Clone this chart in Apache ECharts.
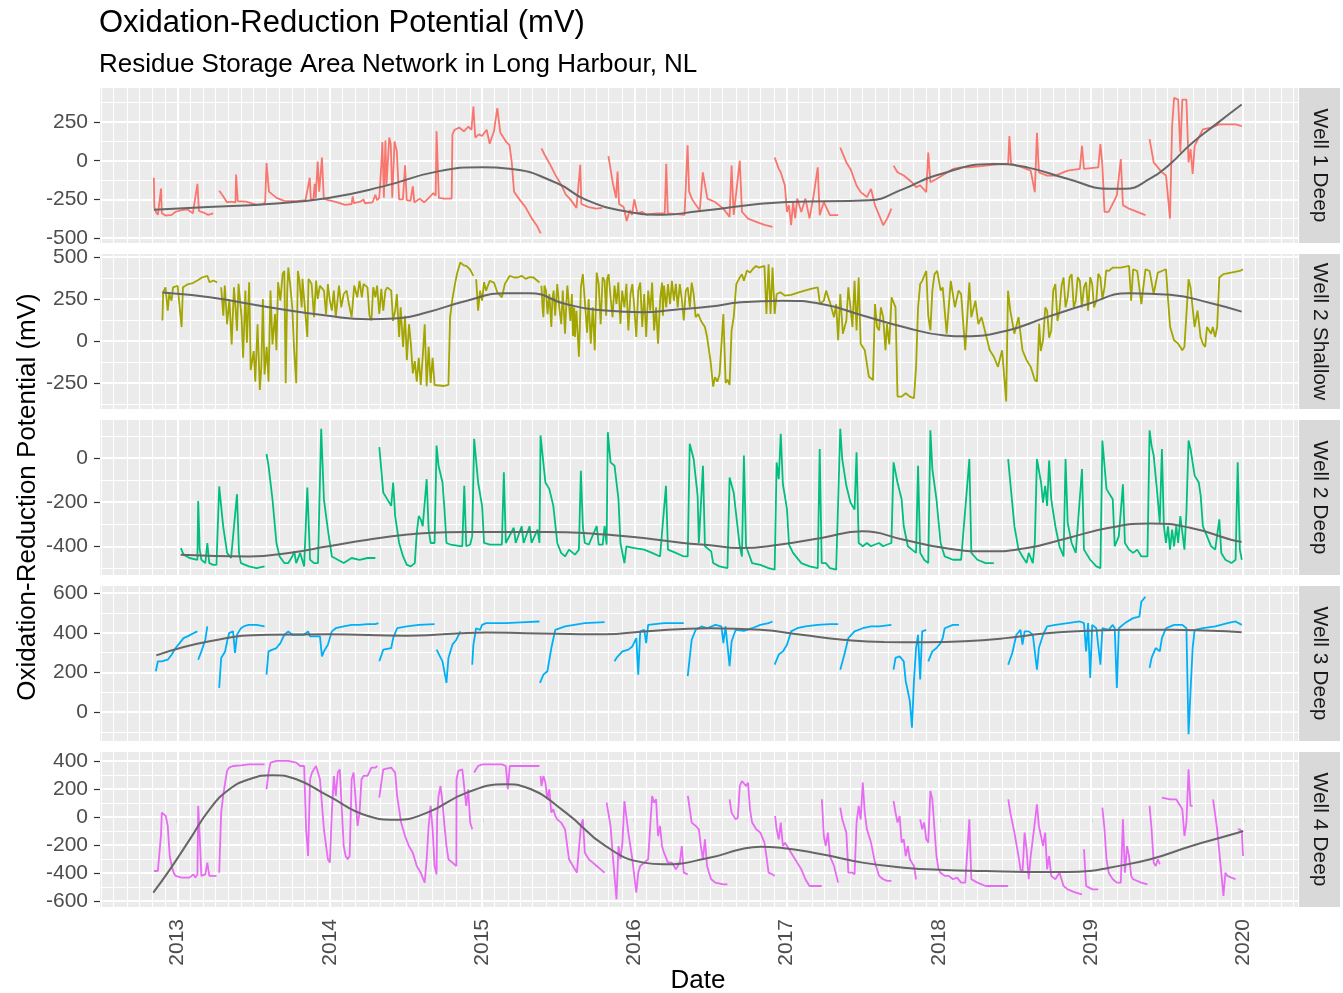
<!DOCTYPE html>
<html><head><meta charset="utf-8">
<script src="https://cdn.jsdelivr.net/npm/echarts@6/dist/echarts.min.js"></script>
<style>html,body{margin:0;padding:0;background:#fff}#c{width:1343px;height:993px}</style>
</head><body><div id="c"></div>
<script>
// ---------------- DATA ----------------
const wellNames = ['Well 1 Deep', 'Well 2 Shallow', 'Well 2 Deep', 'Well 3 Deep', 'Well 4 Deep'];
const xTicks = [2013, 2014, 2015, 2016, 2017, 2018, 2019, 2020];
const yTicks1 = [-500, -250, 0, 250];
const yTicks2 = [-250, 0, 250, 500];
const yTicks3 = [-400, -200, 0];
const yTicks4 = [0, 200, 400, 600];
const yTicks5 = [-600, -400, -200, 0, 200, 400];

// [decimal year, mV]; null = gap in record
const well1 = [[2012.844,-110],[2012.847,-300],[2012.857,-330],[2012.870,-350],[2012.880,-345],[2012.891,-180],[2012.896,-340],[2012.922,-355],[2012.961,-350],[2012.987,-330],[2013.026,-320],[2013.065,-315],[2013.100,-340],[2013.130,-150],[2013.140,-325],[2013.170,-335],[2013.200,-350],[2013.234,-340],
null,
[2013.273,-194],[2013.299,-230],[2013.325,-270],[2013.351,-265],[2013.380,-270],[2013.384,-90],[2013.395,-262],[2013.45,-265],[2013.52,-285],[2013.56,-280],[2013.575,-270],[2013.584,-15],[2013.60,-200],[2013.65,-240],[2013.70,-260],[2013.78,-262],[2013.84,-255],[2013.868,-110],[2013.875,-250],[2013.892,-250],[2013.900,-150],[2013.907,-240],[2013.920,-5],[2013.930,-200],[2013.948,20],[2013.960,-245],[2013.99,-255],[2014.05,-270],[2014.10,-285],[2014.143,-280],[2014.150,-230],[2014.158,-275],[2014.20,-265],[2014.221,-250],[2014.230,-275],[2014.28,-270],[2014.299,-220],[2014.31,-255],
[2014.325,-240],[2014.338,-30],[2014.345,120],[2014.355,-240],[2014.365,130],[2014.372,-160],[2014.390,150],[2014.400,110],[2014.410,-240],[2014.425,125],[2014.440,60],[2014.455,-250],[2014.480,-250],[2014.494,-30],[2014.505,-255],[2014.53,-260],[2014.545,-165],[2014.555,-270],[2014.59,-245],[2014.62,-270],[2014.65,-240],[2014.68,-210],
[2014.695,-225],[2014.701,190],[2014.708,-10],[2014.716,-240],[2014.75,-245],[2014.80,-245],[2014.805,170],[2014.82,200],[2014.85,215],[2014.88,190],[2014.91,220],[2014.93,200],[2014.943,350],[2014.955,150],[2014.98,170],[2015.0,160],[2015.03,200],[2015.05,110],[2015.078,190],[2015.10,340],[2015.12,180],[2015.16,120],[2015.18,100],[2015.195,-10],[2015.21,-200],[2015.245,-250],[2015.285,-300],[2015.325,-370],[2015.36,-420],[2015.385,-470],
null,
[2015.39,80],[2015.41,40],[2015.45,-30],[2015.48,-90],[2015.52,-155],[2015.55,-220],[2015.58,-250],[2015.62,-305],[2015.645,-26],[2015.652,-280],[2015.70,-300],[2015.75,-310],[2015.79,-305],
null,
[2015.83,30],[2015.86,-150],[2015.88,-240],[2015.89,-70],[2015.90,-280],[2015.93,-300],[2015.95,-390],[2015.97,-320],[2015.985,-350],[2016.0,-250],[2016.02,-340],[2016.05,-330],[2016.08,-350],[2016.10,-345],[2016.15,-340],[2016.20,-340],[2016.21,-20],[2016.22,-340],[2016.28,-345],[2016.33,-350],[2016.35,100],[2016.36,-200],[2016.38,-250],[2016.40,-280],[2016.43,-320],[2016.45,-75],[2016.48,-245],[2016.53,-267],[2016.585,-310],[2016.626,-363],[2016.639,-32],[2016.653,-350],[2016.693,0],[2016.707,-330],[2016.747,-375],[2016.801,-395],[2016.855,-415],[2016.908,-427],
null,
[2016.922,21],[2016.949,-53],[2016.962,-75],[2016.989,-160],[2017.003,-331],[2017.016,-288],[2017.030,-416],[2017.043,-267],[2017.057,-373],[2017.070,-245],[2017.097,-331],[2017.124,-245],[2017.151,-373],[2017.178,-224],[2017.205,-43],[2017.218,-352],[2017.245,-267],[2017.285,-352],[2017.339,-352],
null,
[2017.353,85],[2017.393,-11],[2017.420,-53],[2017.460,-160],[2017.487,-203],[2017.528,-235],[2017.555,-182],[2017.581,-288],[2017.608,-352],[2017.635,-417],[2017.662,-373],[2017.689,-310],
null,
[2017.703,-32],[2017.729,-75],[2017.770,-96],[2017.824,-139],[2017.851,-171],[2017.878,-160],[2017.918,-203],[2017.931,53],[2017.945,-139],[2017.985,-118],[2018.039,-86],[2018.093,-53],[2018.147,-43],[2018.201,-43],[2018.308,-32],[2018.416,-21],[2018.456,-21],[2018.464,160],[2018.475,-21],[2018.550,-43],[2018.604,-64],[2018.631,-203],[2018.645,180],[2018.658,-75],[2018.712,-96],[2018.766,-96],[2018.847,-64],[2018.927,-53],[2018.941,96],[2018.954,-53],[2019.048,-43],[2019.062,107],[2019.075,-32],[2019.089,-331],[2019.116,-331],[2019.170,-224],[2019.196,11],[2019.210,-288],[2019.250,-310],[2019.304,-331],[2019.358,-352],
null,
[2019.385,139],[2019.412,-11],[2019.466,-75],[2019.493,-96],[2019.519,-374],[2019.533,224],[2019.546,406],[2019.573,395],[2019.587,53],[2019.600,395],[2019.627,395],[2019.641,-11],[2019.654,75],[2019.668,-86],[2019.681,96],[2019.708,150],[2019.735,203],[2019.789,214],[2019.843,235],[2019.897,235],[2019.950,235],[2019.991,224]];

const well2s = [[2012.90,122],[2012.905,289],[2012.92,319],[2012.935,181],[2012.945,280],[2012.96,240],[2012.97,319],[2013.0,329],[2013.026,83],[2013.035,320],[2013.07,339],[2013.10,345],[2013.13,360],[2013.16,378],[2013.195,388],[2013.21,350],[2013.235,360],[2013.26,348],
null,
[2013.286,320],[2013.30,150],[2013.31,330],[2013.325,100],[2013.34,250],[2013.355,-20],[2013.37,320],[2013.38,200],[2013.39,60],[2013.40,340],[2013.42,142],[2013.43,-100],[2013.445,300],[2013.455,-10],[2013.47,350],[2013.48,-173],[2013.50,-60],[2013.51,-242],[2013.525,100],[2013.54,-291],[2013.55,-150],[2013.56,250],[2013.571,-200],[2013.585,-35],[2013.597,-242],[2013.61,300],[2013.623,-20],[2013.64,160],[2013.649,-55],[2013.66,350],[2013.675,240],[2013.69,400],[2013.701,417],[2013.71,-252],[2013.72,300],[2013.727,437],[2013.74,330],[2013.753,200],[2013.765,-50],[2013.779,-252],[2013.79,417],[2013.80,360],[2013.815,200],[2013.82,370],[2013.83,380],[2013.852,24],[2013.86,370],[2013.88,340],[2013.896,142],[2013.91,360],[2013.92,250],[2013.935,329],[2013.961,300],[2013.975,160],[2013.987,339],[2014.0,240],[2014.013,181],[2014.026,300],[2014.039,142],[2014.06,330],[2014.075,200],[2014.091,280],[2014.11,300],[2014.125,220],[2014.143,142],[2014.16,330],[2014.18,260],[2014.195,358],[2014.21,260],[2014.221,339],[2014.247,319],[2014.26,150],[2014.273,122],[2014.285,320],[2014.299,260],[2014.31,330],[2014.325,161],[2014.338,310],[2014.351,181],[2014.365,300],[2014.377,319],
[2014.403,300],[2014.415,120],[2014.429,181],[2014.44,280],[2014.455,24],[2014.465,200],[2014.481,-35],[2014.494,150],[2014.506,-114],[2014.52,100],[2014.532,-16],[2014.545,-193],[2014.558,-120],[2014.571,-242],[2014.584,-100],[2014.597,-262],[2014.61,-94],[2014.623,100],[2014.636,-270],[2014.649,-35],[2014.662,-250],[2014.675,-100],[2014.688,-262],[2014.70,-272],[2014.72,-265],[2014.75,-268],[2014.779,-262],[2014.79,142],[2014.805,250],[2014.82,330],[2014.835,400],[2014.857,467],[2014.88,450],[2014.896,447],[2014.92,427],[2014.943,388],
null,
[2014.961,368],[2014.974,181],[2014.987,300],[2015.0,240],[2015.013,350],[2015.026,299],[2015.05,358],[2015.078,348],[2015.10,290],[2015.13,260],[2015.15,340],[2015.182,388],[2015.21,378],[2015.234,378],[2015.26,388],[2015.286,370],[2015.312,380],[2015.338,378],[2015.377,348],
null,
[2015.390,329],[2015.397,200],[2015.403,142],[2015.41,330],[2015.42,300],[2015.43,160],[2015.442,280],[2015.455,83],[2015.462,250],[2015.47,300],[2015.48,150],[2015.494,339],[2015.507,200],[2015.52,100],[2015.53,300],[2015.545,43],[2015.555,250],[2015.56,330],[2015.571,319],[2015.58,120],[2015.59,280],[2015.597,30],[2015.605,200],[2015.61,24],[2015.62,180],[2015.636,-94],[2015.643,100],[2015.649,320],[2015.662,398],[2015.675,407],[2015.69,50],[2015.70,250],[2015.714,-16],[2015.727,200],[2015.74,-55],[2015.753,407],[2015.766,340],[2015.779,100],[2015.792,380],[2015.805,358],[2015.815,150],[2015.822,370],[2015.831,398],[2015.845,250],[2015.857,142],[2015.87,330],[2015.883,220],[2015.895,350],[2015.909,102],[2015.92,300],[2015.935,200],[2015.948,340],[2015.961,63],[2015.975,280],[2015.987,339],[2016.0,200],[2016.013,24],[2016.026,300],[2016.039,348],[2016.052,83],[2016.065,280],[2016.078,24],[2016.091,300],[2016.105,180],[2016.117,348],[2016.13,63],[2016.143,200],[2016.156,-16],[2016.17,250],[2016.182,348],[2016.188,150],[2016.195,330],[2016.21,200],[2016.221,339],[2016.235,220],[2016.247,358],[2016.26,240],[2016.273,340],[2016.285,200],[2016.299,339],[2016.312,250],[2016.325,122],[2016.338,300],[2016.351,319],[2016.365,200],[2016.377,348],[2016.39,280],[2016.403,142],[2016.42,160],[2016.437,122],[2016.45,102],[2016.464,83],[2016.478,24],[2016.50,-114],[2016.518,-272],[2016.53,-215],[2016.545,-242],[2016.56,-200],[2016.585,161],[2016.60,-250],[2016.612,-230],[2016.626,-262],[2016.639,63],[2016.653,142],[2016.67,339],[2016.693,378],[2016.707,398],[2016.72,358],[2016.74,420],[2016.76,407],[2016.78,430],[2016.80,447],[2016.82,437],[2016.855,447],[2016.868,161],[2016.882,457],[2016.895,161],[2016.908,437],[2016.922,161],[2016.935,280],[2016.96,290],[2016.989,270],[2017.03,275],[2017.08,290],[2017.12,300],[2017.16,310],[2017.205,319],[2017.22,220],[2017.245,240],[2017.26,300],[2017.285,230],[2017.312,142],[2017.326,220],[2017.339,4],[2017.353,280],[2017.37,43],[2017.393,122],[2017.406,320],[2017.433,83],[2017.447,358],[2017.46,63],[2017.474,378],
[2017.487,-16],[2017.514,-55],[2017.541,-213],[2017.568,-232],[2017.581,220],[2017.595,83],[2017.608,63],[2017.62,200],[2017.635,142],[2017.65,-55],[2017.66,100],[2017.675,-20],[2017.69,260],[2017.716,200],[2017.729,-331],[2017.756,-331],[2017.783,-311],[2017.81,-331],[2017.837,-341],[2017.851,-154],[2017.864,200],[2017.878,339],[2017.891,358],[2017.918,417],[2017.931,150],[2017.945,63],[2017.958,300],[2017.972,398],[2017.99,417],[2018.012,300],[2018.026,319],[2018.052,43],[2018.079,358],[2018.106,201],[2018.13,300],[2018.147,280],[2018.174,-55],[2018.201,348],[2018.214,142],[2018.241,240],[2018.26,100],[2018.281,142],[2018.308,43],[2018.335,-55],[2018.362,-94],[2018.389,-154],[2018.416,-55],[2018.443,-360],
[2018.455,299],[2018.47,181],[2018.497,43],[2018.524,142],[2018.550,-55],[2018.577,-114],[2018.604,-154],[2018.631,-232],[2018.645,-242],[2018.66,102],[2018.67,-60],[2018.685,4],[2018.70,200],[2018.712,181],[2018.725,20],[2018.739,63],[2018.752,300],[2018.766,339],[2018.78,120],[2018.793,181],[2018.807,330],[2018.82,378],[2018.833,200],[2018.847,260],[2018.86,380],[2018.873,398],[2018.887,200],[2018.900,240],[2018.913,380],[2018.927,358],[2018.94,200],[2018.954,319],[2018.968,350],[2018.981,181],[2018.995,380],[2019.008,339],[2019.02,200],[2019.035,240],[2019.048,400],[2019.062,378],[2019.075,250],[2019.089,319],[2019.10,420],[2019.116,417],[2019.143,437],[2019.196,437],[2019.25,447],[2019.264,240],[2019.277,427],[2019.304,417],[2019.331,220],[2019.358,427],[2019.385,417],[2019.412,280],[2019.439,407],[2019.466,417],[2019.493,427],[2019.506,250],[2019.52,83],[2019.546,4],[2019.573,-16],[2019.60,-55],[2019.614,-35],[2019.641,368],[2019.654,319],[2019.681,83],[2019.70,181],[2019.72,24],[2019.735,-16],[2019.75,-35],[2019.762,83],[2019.789,43],[2019.80,83],[2019.816,24],[2019.829,83],[2019.843,378],[2019.870,398],[2019.92,407],[2019.978,417],[2019.999,427]];

const well2d = [[2013.021,-408],[2013.039,-438],[2013.078,-453],[2013.130,-461],[2013.135,-195],[2013.145,-415],[2013.156,-461],[2013.182,-476],[2013.195,-385],[2013.208,-476],[2013.234,-484],[2013.255,-484],[2013.273,-129],[2013.299,-309],[2013.325,-430],[2013.351,-453],[2013.390,-164],[2013.403,-430],[2013.416,-476],[2013.468,-491],[2013.519,-499],[2013.571,-491],
null,
[2013.584,18],[2013.597,-35],[2013.623,-187],[2013.649,-385],[2013.670,-446],[2013.701,-476],[2013.727,-476],[2013.753,-446],[2013.766,-423],[2013.779,-476],[2013.805,-430],[2013.831,-491],[2013.852,-134],[2013.870,-461],[2013.896,-476],[2013.922,-476],[2013.943,132],[2013.961,-187],[2013.987,-324],[2014.013,-446],[2014.052,-461],[2014.091,-476],[2014.143,-453],[2014.195,-461],[2014.247,-453],[2014.299,-453],
null,
[2014.325,49],[2014.351,-157],[2014.403,-217],[2014.416,-111],[2014.429,-263],[2014.455,-385],[2014.481,-446],[2014.506,-484],[2014.532,-491],[2014.558,-476],[2014.571,-339],[2014.584,-263],[2014.597,-278],[2014.610,-309],[2014.636,-96],[2014.649,-324],[2014.662,-385],[2014.688,-385],
[2014.701,56],[2014.714,-35],[2014.740,-111],[2014.753,-233],[2014.766,-385],[2014.792,-392],[2014.870,-400],[2014.883,-126],[2014.896,-400],[2014.922,-392],[2014.935,-354],
[2014.948,87],[2014.974,-111],[2015.0,-217],[2015.013,-385],[2015.052,-392],[2015.13,-392],[2015.143,-65],[2015.156,-385],[2015.208,-316],[2015.221,-385],[2015.260,-309],[2015.273,-385],[2015.312,-309],[2015.325,-385],[2015.364,-324],[2015.377,-385],
[2015.384,102],[2015.416,-111],[2015.442,-141],[2015.468,-217],[2015.494,-385],[2015.519,-430],[2015.545,-446],[2015.571,-415],[2015.610,-438],[2015.636,-415],[2015.649,-58],[2015.662,-309],[2015.675,-385],[2015.701,-392],[2015.753,-309],[2015.766,-392],[2015.792,-392],[2015.805,-309],[2015.818,-392],
[2015.826,117],[2015.844,-20],[2015.870,-35],[2015.896,-187],[2015.909,-385],[2015.935,-476],[2015.948,-400],[2016.0,-408],[2016.065,-415],[2016.117,-430],[2016.169,-446],[2016.208,-126],[2016.221,-415],[2016.273,-430],[2016.325,-446],[2016.351,-446],
[2016.364,64],[2016.390,-5],[2016.416,-172],[2016.424,-385],[2016.451,-35],[2016.464,-400],[2016.505,-423],[2016.518,-476],[2016.559,-491],[2016.612,-499],
[2016.626,-88],[2016.653,-157],[2016.680,-324],[2016.693,-400],[2016.707,-446],[2016.720,11],[2016.734,-400],[2016.774,-476],[2016.828,-484],[2016.882,-499],[2016.922,-506],
[2016.935,-20],[2016.949,-96],[2016.962,110],[2016.976,-119],[2016.989,-172],[2017.003,-233],[2017.016,-392],[2017.043,-430],[2017.097,-476],[2017.151,-491],[2017.205,-499],
[2017.218,41],[2017.231,-476],[2017.258,-476],[2017.285,-499],[2017.326,-506],
[2017.353,132],[2017.366,-5],[2017.393,-126],[2017.420,-202],[2017.447,-233],[2017.460,26],[2017.474,-385],[2017.501,-400],[2017.528,-385],[2017.555,-400],[2017.581,-392],[2017.608,-385],[2017.635,-400],[2017.662,-392],[2017.689,-385],
[2017.703,-20],[2017.729,-111],[2017.756,-187],[2017.770,-309],[2017.797,-400],[2017.824,-415],[2017.851,-430],[2017.864,-35],[2017.878,-430],[2017.904,-461],[2017.931,-476],
[2017.945,125],[2017.958,-50],[2017.985,-187],[2018.012,-385],[2018.039,-446],[2018.093,-461],[2018.147,-461],[2018.201,-5],[2018.214,-430],[2018.254,-461],[2018.308,-476],[2018.362,-476],
null,
[2018.456,-5],[2018.470,-111],[2018.497,-309],[2018.524,-415],[2018.550,-446],[2018.577,-476],[2018.591,-430],[2018.618,-476],[2018.631,-385],
[2018.645,-5],[2018.672,-111],[2018.685,-202],[2018.699,-126],[2018.712,-217],[2018.725,-12],[2018.739,-187],[2018.766,-309],[2018.793,-400],[2018.820,-446],[2018.833,-5],[2018.847,-294],[2018.873,-385],[2018.900,-430],[2018.941,-50],[2018.954,-415],[2018.995,-461],[2019.035,-491],[2019.062,-499],
[2019.075,79],[2019.089,-35],[2019.102,-141],[2019.143,-187],[2019.156,-400],[2019.183,-354],[2019.210,-119],[2019.223,-385],[2019.250,-415],[2019.277,-430],[2019.304,-415],[2019.331,-446],[2019.371,-446],
[2019.385,125],[2019.398,56],[2019.412,11],[2019.439,-187],[2019.452,-294],[2019.466,41],[2019.479,-309],[2019.493,-385],[2019.506,-309],[2019.519,-415],[2019.533,-324],[2019.546,-400],[2019.560,-309],[2019.573,-385],[2019.587,-263],[2019.614,-415],[2019.627,-248],[2019.641,79],[2019.654,41],[2019.681,-80],[2019.708,-111],[2019.721,-172],[2019.735,-309],[2019.762,-354],[2019.789,-400],[2019.816,-415],[2019.843,-278],[2019.856,-430],[2019.883,-461],[2019.923,-476],[2019.950,-461],[2019.964,-20],[2019.978,-415],[2019.991,-461]];

const well3 = [[2012.857,206],[2012.870,256],[2012.896,256],[2012.935,264],[2012.961,290],[2012.987,323],[2013.013,348],[2013.039,373],[2013.065,382],[2013.104,398],[2013.130,407],
null,
[2013.135,264],[2013.156,306],[2013.182,365],[2013.195,432],
null,
[2013.273,122],[2013.286,273],[2013.312,306],[2013.325,356],[2013.338,398],[2013.364,407],[2013.377,298],[2013.390,390],[2013.403,407],[2013.416,423],[2013.442,435],[2013.468,440],[2013.519,440],[2013.571,432],
null,
[2013.584,189],[2013.597,306],[2013.623,315],[2013.649,323],[2013.675,348],[2013.701,390],[2013.727,407],[2013.753,390],[2013.779,390],[2013.831,390],[2013.857,407],[2013.870,382],[2013.883,390],[2013.909,382],[2013.922,390],[2013.935,382],[2013.948,281],[2013.961,306],[2013.987,340],[2014.013,407],[2014.039,423],[2014.091,432],[2014.143,440],[2014.195,440],[2014.247,444],[2014.299,444],[2014.319,449],
null,
[2014.325,256],[2014.351,315],[2014.403,323],[2014.416,373],[2014.442,423],[2014.506,432],[2014.584,440],[2014.688,444],
null,
[2014.701,315],[2014.740,256],[2014.766,147],[2014.779,273],[2014.805,340],[2014.831,365],[2014.857,407],
null,
[2014.935,239],[2014.943,340],[2014.961,423],[2014.987,415],[2015.0,440],[2015.026,449],[2015.156,449],[2015.286,454],[2015.377,457],
null,
[2015.38,147],[2015.403,189],[2015.429,206],[2015.455,323],[2015.481,415],[2015.545,432],[2015.675,449],[2015.805,454],
null,
[2015.870,256],[2015.883,273],[2015.922,306],[2015.961,315],[2015.987,331],[2016.013,373],[2016.026,189],[2016.039,407],[2016.065,415],[2016.078,348],[2016.091,440],[2016.195,449],[2016.325,449],
null,
[2016.351,181],[2016.377,365],[2016.403,415],[2016.442,432],[2016.478,423],[2016.532,440],[2016.572,432],[2016.585,348],[2016.599,432],[2016.626,231],[2016.639,356],[2016.666,415],[2016.720,410],[2016.774,423],[2016.828,440],[2016.882,449],[2016.908,457],
null,
[2016.922,239],[2016.949,290],[2016.976,306],[2017.003,340],[2017.030,407],[2017.070,423],[2017.124,432],[2017.205,440],[2017.285,444],[2017.339,444],
null,
[2017.353,214],[2017.380,290],[2017.406,373],[2017.447,407],[2017.501,423],[2017.555,432],[2017.608,432],[2017.689,440],
null,
[2017.703,214],[2017.716,273],[2017.743,281],[2017.770,256],[2017.783,156],[2017.797,105],[2017.810,55],[2017.824,-79],[2017.837,156],[2017.851,323],[2017.864,390],[2017.878,164],[2017.891,407],[2017.918,415],
null,
[2017.931,256],[2017.958,306],[2017.985,323],[2018.012,348],[2018.026,373],[2018.039,423],[2018.093,440],[2018.133,440],
null,
[2018.456,239],[2018.483,298],[2018.510,390],[2018.537,415],[2018.550,340],[2018.564,407],[2018.591,407],[2018.618,390],[2018.645,214],[2018.658,323],[2018.685,390],[2018.712,432],[2018.766,440],[2018.847,449],[2018.927,457],[2018.954,449],[2018.968,306],[2018.981,449],[2018.995,172],[2019.008,440],[2019.035,423],[2019.062,239],[2019.075,423],[2019.116,415],[2019.143,440],[2019.156,423],[2019.170,122],[2019.183,423],[2019.223,449],[2019.277,474],[2019.318,482],[2019.331,557],[2019.358,582],
null,
[2019.385,223],[2019.398,273],[2019.425,323],[2019.452,306],[2019.466,373],[2019.493,423],[2019.546,440],[2019.600,440],[2019.627,423],[2019.641,-112],[2019.654,105],[2019.668,323],[2019.681,415],[2019.735,423],[2019.816,432],[2019.897,449],[2019.950,457],[2019.991,440]];

const well4 = [[2012.844,-386],[2012.857,-398],[2012.870,-386],[2012.883,-374],[2012.891,-124],[2012.896,31],[2012.909,43],[2012.922,7],[2012.935,-64],[2012.948,-279],[2012.961,-350],[2012.974,-398],[2012.987,-421],[2013.026,-433],[2013.078,-433],[2013.104,-410],[2013.117,-433],[2013.130,-410],[2013.135,79],[2013.143,-88],[2013.156,-421],[2013.182,-410],[2013.195,-326],[2013.208,-421],[2013.255,-421],
null,
[2013.273,-398],[2013.286,31],[2013.299,150],[2013.312,245],[2013.325,329],[2013.338,352],[2013.364,364],[2013.416,369],[2013.468,376],[2013.571,376],
null,
[2013.584,198],[2013.597,317],[2013.610,388],[2013.649,400],[2013.727,400],[2013.779,388],[2013.805,364],[2013.831,364],[2013.844,-88],[2013.857,-279],[2013.870,269],[2013.883,317],[2013.909,364],[2013.935,269],[2013.961,-88],[2013.987,-302],[2014.0,-326],[2014.013,31],[2014.026,293],[2014.039,150],[2014.052,317],[2014.065,340],[2014.091,-207],[2014.104,-279],[2014.117,-302],[2014.130,-279],[2014.143,269],[2014.156,317],[2014.182,-64],[2014.195,31],[2014.208,269],[2014.221,293],[2014.247,293],[2014.273,352],[2014.299,352],[2014.312,364],
null,
[2014.325,138],[2014.338,245],[2014.351,340],[2014.403,352],[2014.429,317],[2014.442,150],[2014.468,-40],[2014.494,-136],[2014.519,-207],[2014.545,-255],[2014.571,-350],[2014.597,-398],[2014.623,-469],[2014.636,-302],[2014.649,-64],[2014.662,79],[2014.675,-88],[2014.688,-350],[2014.701,-410],
[2014.705,7],[2014.714,150],[2014.727,221],[2014.740,102],[2014.753,-64],[2014.766,-207],[2014.779,-302],[2014.805,-326],[2014.831,-350],[2014.832,269],[2014.844,329],[2014.870,340],[2014.896,79],[2014.909,198],[2014.922,-40],[2014.935,-88],
null,
[2014.948,317],[2014.974,364],[2015.0,376],[2015.026,376],[2015.130,376],[2015.156,364],[2015.169,198],[2015.182,364],[2015.234,364],[2015.286,364],[2015.377,364],
null,
[2015.384,293],[2015.390,221],[2015.403,293],[2015.416,245],[2015.429,126],[2015.442,198],[2015.455,31],[2015.468,55],[2015.481,7],[2015.494,-17],[2015.519,-40],[2015.545,-88],[2015.571,-302],[2015.597,-350],[2015.623,-398],[2015.649,-64],[2015.662,-17],[2015.675,-255],[2015.701,-302],[2015.727,-326],[2015.753,-350],[2015.779,-374],[2015.805,-398],
null,
[2015.818,102],[2015.844,-64],[2015.857,-255],[2015.883,-588],[2015.896,-207],[2015.909,-302],[2015.922,-183],[2015.935,114],[2015.948,102],[2015.961,-112],[2015.987,-302],[2016.013,-540],[2016.026,-398],[2016.039,-350],[2016.065,-326],[2016.091,-302],[2016.117,150],[2016.130,102],[2016.143,126],[2016.156,-136],[2016.169,-64],[2016.182,-207],[2016.195,-255],[2016.221,-326],[2016.247,-326],[2016.273,-374],[2016.299,-326],[2016.312,-207],[2016.325,-398],[2016.351,-410],
null,
[2016.352,150],[2016.377,-40],[2016.403,-64],[2016.424,-88],[2016.437,-207],[2016.451,-302],[2016.464,-160],[2016.478,-350],[2016.491,-398],[2016.505,-445],[2016.532,-469],[2016.585,-481],[2016.612,-481],
null,
[2016.626,126],[2016.639,31],[2016.666,-17],[2016.680,-5],[2016.693,221],[2016.707,257],[2016.720,269],[2016.734,221],[2016.747,245],[2016.760,55],[2016.774,-40],[2016.801,-88],[2016.828,-112],[2016.855,-183],[2016.868,-279],[2016.882,-398],[2016.908,-410],[2016.922,-421],
null,
[2016.925,7],[2016.935,-88],[2016.949,-160],[2016.962,-40],[2016.976,-207],[2016.989,-183],[2017.003,-207],[2017.016,-231],[2017.043,-279],[2017.070,-326],[2017.097,-374],[2017.124,-445],[2017.151,-493],[2017.205,-493],[2017.231,-493],
null,
[2017.232,126],[2017.245,-136],[2017.258,-207],[2017.272,-112],[2017.285,-279],[2017.312,-350],[2017.339,-469],
null,
[2017.353,67],[2017.366,-17],[2017.393,-112],[2017.406,-398],[2017.433,-398],[2017.447,-410],[2017.460,-40],[2017.474,79],[2017.487,-17],[2017.501,245],[2017.514,31],[2017.528,-88],[2017.555,-183],[2017.581,-326],[2017.608,-421],[2017.635,-445],[2017.662,-457],[2017.689,-457],
null,
[2017.703,114],[2017.716,31],[2017.729,-40],[2017.743,7],[2017.756,-183],[2017.770,-160],[2017.783,-279],[2017.797,-207],[2017.810,-302],[2017.837,-350],[2017.851,-445],
null,
[2017.878,-17],[2017.891,-88],[2017.904,-40],[2017.918,-160],[2017.931,-183],[2017.945,186],[2017.958,126],[2017.972,-88],[2017.985,-279],[2017.999,-374],[2018.012,-398],[2018.039,-421],[2018.066,-421],[2018.093,-445],[2018.120,-433],[2018.147,-469],[2018.174,-469],[2018.201,-17],[2018.214,-445],[2018.254,-469],[2018.308,-493],[2018.362,-493],[2018.416,-493],[2018.456,-493],
null,
[2018.457,126],[2018.470,31],[2018.497,-112],[2018.524,-279],[2018.537,-374],[2018.550,-398],[2018.564,-112],[2018.577,-231],[2018.591,-445],[2018.604,-279],[2018.631,-40],[2018.645,90],[2018.658,-64],[2018.685,-207],[2018.699,-112],[2018.712,-374],[2018.725,-279],[2018.739,-421],[2018.766,-445],[2018.793,-398],[2018.820,-493],[2018.847,-517],[2018.900,-540],[2018.941,-552],
null,
[2018.954,-231],[2018.968,-493],[2019.008,-517],[2019.048,-517],
null,
[2019.075,67],[2019.089,-88],[2019.102,-302],[2019.116,-398],[2019.143,-445],[2019.170,-469],[2019.196,-469],[2019.210,-17],[2019.223,-398],[2019.237,-207],[2019.250,-279],[2019.264,-421],[2019.277,-445],[2019.331,-469],[2019.371,-481],
null,
[2019.385,79],[2019.398,-88],[2019.412,-326],[2019.425,-350],[2019.439,-302],[2019.452,-338],
null,
[2019.466,138],[2019.519,126],[2019.560,126],[2019.600,55],[2019.614,-136],[2019.627,-40],[2019.641,340],[2019.654,79],[2019.668,79],
null,
[2019.802,126],[2019.829,-88],[2019.856,-398],[2019.870,-564],[2019.883,-398],[2019.897,-421],[2019.923,-433],[2019.950,-445],
null,
[2019.964,-88],[2019.978,-88],[2019.991,-112],[2019.999,-279]];

// smoothed trend lines (grey)
const smooth1 = [[2012.844,-317],[2013.2,-300],[2013.6,-280],[2013.99,-241],[2014.35,-166],[2014.71,-69],[2015.0,-43],[2015.18,-52],[2015.49,-144],[2015.68,-252],[2015.94,-327],[2016.19,-349],[2016.42,-327],[2017.0,-267],[2017.54,-256],[2017.77,-182],[2017.98,-96],[2018.36,-21],[2018.58,-43],[2018.85,-118],[2019.12,-182],[2019.22,-182],[2019.385,-118],[2019.52,-21],[2019.655,107],[2019.82,235],[2019.99,363]];
const smooth2 = [[2012.90,289],[2013.21,260],[2013.60,201],[2013.99,150],[2014.25,130],[2014.45,135],[2014.64,171],[2014.90,240],[2015.16,285],[2015.31,285],[2015.55,220],[2015.81,181],[2016.06,171],[2016.25,185],[2016.50,205],[2016.70,230],[2016.97,240],[2017.23,220],[2017.50,152],[2017.77,83],[2018.04,33],[2018.17,28],[2018.44,60],[2018.71,142],[2018.98,220],[2019.25,285],[2019.52,275],[2019.79,225],[2019.99,175]];
const smooth3 = [[2013.02,-438],[2013.47,-446],[2013.73,-430],[2013.99,-400],[2014.25,-370],[2014.51,-347],[2014.77,-336],[2015.03,-335],[2015.29,-335],[2015.55,-336],[2015.81,-347],[2016.06,-362],[2016.32,-385],[2016.50,-395],[2016.69,-408],[2016.96,-392],[2017.23,-362],[2017.50,-332],[2017.77,-370],[2018.04,-408],[2018.31,-423],[2018.58,-408],[2018.85,-362],[2019.12,-316],[2019.39,-297],[2019.65,-316],[2019.92,-370],[2019.99,-380]];
const smooth4 = [[2012.86,286],[2013.21,357],[2013.60,390],[2013.99,392],[2014.51,385],[2015.03,402],[2015.29,398],[2015.81,392],[2016.06,407],[2016.50,423],[2016.83,415],[2017.10,390],[2017.37,365],[2017.64,353],[2017.91,352],[2018.17,357],[2018.44,373],[2018.71,398],[2018.98,410],[2019.25,415],[2019.52,415],[2019.79,410],[2019.99,403]];
const smooth5 = [[2012.84,-540],[2012.95,-374],[2013.08,-160],[2013.21,55],[2013.34,198],[2013.47,269],[2013.62,298],[2013.78,269],[2013.99,150],[2014.25,7],[2014.43,-20],[2014.64,31],[2014.90,174],[2015.16,233],[2015.29,210],[2015.55,31],[2015.81,-207],[2016.06,-326],[2016.19,-338],[2016.50,-290],[2016.70,-231],[2016.83,-212],[2016.96,-219],[2017.23,-267],[2017.50,-326],[2017.77,-362],[2018.04,-379],[2018.31,-386],[2018.58,-393],[2018.85,-393],[2018.99,-386],[2019.12,-362],[2019.39,-302],[2019.66,-207],[2019.93,-124],[2020.0,-100]];

// ---------------- LAYOUT / STYLE ----------------
const FONT = '"Liberation Sans", Arial, Helvetica, sans-serif';
const colors = ['#F8766D', '#A3A500', '#00BF7D', '#00B0F6', '#E76BF3'];
const seriesData = [well1, well2s, well2d, well3, well4];
const smoothData = [smooth1, smooth2, smooth3, smooth4, smooth5];
const yTicks = [yTicks1, yTicks2, yTicks3, yTicks4, yTicks5];
const yRanges = [[-532, 470], [-405, 518], [-530, 172], [-146, 636], [-643, 464]];
const xRange = [2012.49, 2020.36];
const panelLeft = 100, panelWidth = 1198, panelHeight = 155;
const panelTops = [88, 254, 420, 586, 752];

function toLine(arr) { return arr.map(p => p === null ? ['-', '-'] : p); }

const grids = [], xAxes = [], yAxes = [], series = [], graphics = [];
for (let i = 0; i < 5; i++) {
  const last = i === 4;
  grids.push({ left: panelLeft, width: panelWidth, top: panelTops[i], height: panelHeight,
    show: true, backgroundColor: '#EBEBEB', borderWidth: 0, containLabel: false });
  xAxes.push({ type: 'value', gridIndex: i, min: xRange[0], max: xRange[1],
    axisLine: { show: false }, splitLine: { show: false },
    axisTick: { show: last, length: 6, customValues: xTicks, lineStyle: { color: '#333333', width: 1.2 } },
    axisLabel: { show: last, customValues: xTicks, rotate: 90, margin: 12, fontSize: 21,
      color: '#4D4D4D', fontFamily: FONT, formatter: v => String(Math.round(v)) } });
  yAxes.push({ type: 'value', gridIndex: i, min: yRanges[i][0], max: yRanges[i][1],
    axisLine: { show: false }, splitLine: { show: false },
    axisTick: { show: true, length: 6, customValues: yTicks[i], lineStyle: { color: '#333333', width: 1.2 } },
    axisLabel: { customValues: yTicks[i], margin: 12, fontSize: 21, color: '#4D4D4D', fontFamily: FONT,
      formatter: v => String(Math.round(v)) } });

  // grid lines: majors at ticks, minor at midpoints (y) and months (x)
  const yt = yTicks[i];
  const step = yt[1] - yt[0];
  const ml = [];
  for (let k = 0; ; k++) {
    const v = yt[0] - step / 2 + k * step;
    if (v > yRanges[i][1]) break;
    if (v >= yRanges[i][0]) ml.push({ yAxis: v, lineStyle: { color: '#FFFFFF', width: 1, type: 'solid' } });
  }
  yt.forEach(v => ml.push({ yAxis: v, lineStyle: { color: '#FFFFFF', width: 2, type: 'solid' } }));
  for (let m = 6; m <= 100; m++) {
    if (m % 12 === 0) continue;
    ml.push({ xAxis: 2012 + m / 12, lineStyle: { color: '#FFFFFF', width: 1, type: 'solid' } });
  }
  xTicks.forEach(v => ml.push({ xAxis: v, lineStyle: { color: '#FFFFFF', width: 2, type: 'solid' } }));
  series.push({ type: 'line', xAxisIndex: i, yAxisIndex: i, data: [], z: 1, silent: true,
    markLine: { z: 1, symbol: ['none', 'none'], silent: true, animation: false, label: { show: false },
      emphasis: { disabled: true }, data: ml } });

  series.push({ type: 'line', name: wellNames[i], xAxisIndex: i, yAxisIndex: i, data: toLine(seriesData[i]),
    showSymbol: false, symbol: 'none', connectNulls: false, z: 10, silent: true,
    lineStyle: { color: colors[i], width: 1.8 }, itemStyle: { color: colors[i] } });
  series.push({ type: 'line', xAxisIndex: i, yAxisIndex: i, data: smoothData[i], smooth: 0.5,
    showSymbol: false, symbol: 'none', z: 11, silent: true,
    lineStyle: { color: '#666666', width: 2 } });

  // facet strip
  graphics.push({ type: 'rect', shape: { x: 1299, y: panelTops[i], width: 41, height: panelHeight },
    style: { fill: '#D9D9D9' }, silent: true });
  graphics.push({ type: 'text', x: 1319.5, y: panelTops[i] + panelHeight / 2, rotation: -Math.PI / 2,
    style: { text: wellNames[i], fontSize: 21, fontFamily: FONT, fill: '#1A1A1A', align: 'center', verticalAlign: 'middle' } });
}
graphics.push({ type: 'text', x: 28, y: 497, rotation: Math.PI / 2,
  style: { text: 'Oxidation-Reduction Potential (mV)', fontSize: 26, fontFamily: FONT, fill: '#000000', align: 'center', verticalAlign: 'middle' } });
graphics.push({ type: 'text', x: 698, y: 981,
  style: { text: 'Date', fontSize: 26, fontFamily: FONT, fill: '#000000', align: 'center', verticalAlign: 'middle' } });

const chart = echarts.init(document.getElementById('c'), null, { renderer: 'canvas' });
chart.setOption({
  animation: false,
  backgroundColor: '#FFFFFF',
  title: [
    { text: 'Oxidation-Reduction Potential (mV)', left: 99, top: 8, padding: 0,
      textStyle: { fontSize: 31, fontWeight: 'normal', color: '#000000', fontFamily: FONT } },
    { text: 'Residue Storage Area Network in Long Harbour, NL', left: 99, top: 52, padding: 0,
      textStyle: { fontSize: 26, fontWeight: 'normal', color: '#000000', fontFamily: FONT } }
  ],
  grid: grids, xAxis: xAxes, yAxis: yAxes, series: series, graphic: graphics
});
</script></body></html>
